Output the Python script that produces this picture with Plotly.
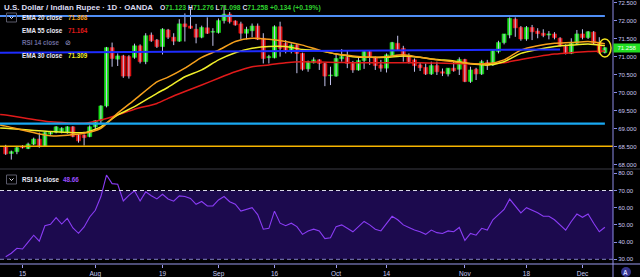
import plotly.graph_objects as go
import pandas as pd

# ---------------- data ----------------
dates = pd.bdate_range("2019-07-10", "2019-12-06")  # 108 daily bars

opens = [68.51, 68.32, 68.37, 68.51, 68.46, 68.58, 68.72, 68.53, 68.86, 68.91,
         68.91, 68.90, 69.06, 68.83, 68.83, 68.79, 69.06, 69.23, 69.64, 71.26,
         70.94, 71.03, 71.01, 70.99, 71.31, 70.87, 71.61, 71.47, 71.29, 71.75,
         71.55, 71.44, 71.92, 71.86, 71.77, 71.55, 71.81, 71.69, 71.68, 72.01,
         72.19, 72.00, 71.92, 71.66, 71.73, 71.86, 71.52, 70.98, 70.98, 71.84,
         71.38, 71.15, 71.33, 71.10, 70.67, 70.84, 70.92, 70.82, 70.48, 70.47,
         70.95, 70.99, 70.82, 70.64, 70.90, 71.15, 70.99, 70.78, 70.69, 71.03,
         71.38, 71.24, 71.01, 70.92, 70.78, 70.71, 70.53, 70.76, 70.59, 70.53,
         70.69, 70.66, 70.93, 70.32, 70.66, 70.53, 70.85, 70.78, 71.15, 71.40,
         71.61, 72.05, 71.82, 71.50, 71.82, 71.72, 71.66, 71.61, 71.64, 71.52,
         71.29, 71.10, 71.38, 71.64, 71.54, 71.69, 71.40, 71.123]
highs = [68.56, 68.40, 68.53, 68.55, 68.62, 68.76, 68.90, 68.92, 68.93, 69.08,
         69.05, 69.08, 69.08, 68.86, 68.85, 69.10, 69.25, 69.66, 71.28, 71.40,
         71.10, 71.06, 71.05, 71.37, 71.35, 71.66, 71.68, 71.50, 71.80, 71.78,
         71.66, 72.05, 72.21, 72.35, 71.92, 71.87, 72.10, 71.80, 72.07, 72.44,
         72.25, 72.02, 71.98, 71.84, 71.93, 71.93, 71.66, 71.06, 71.88, 71.98,
         71.47, 71.38, 71.36, 71.12, 70.90, 70.99, 70.94, 70.84, 70.73, 71.06,
         71.22, 71.18, 70.89, 70.99, 71.17, 71.18, 71.01, 70.92, 71.10, 71.42,
         71.59, 71.31, 71.10, 70.96, 70.85, 70.82, 70.87, 70.87, 70.68, 70.69,
         70.87, 70.99, 70.95, 70.73, 70.70, 70.92, 70.92, 71.20, 71.45, 71.64,
         72.10, 72.10, 71.86, 71.86, 71.89, 71.80, 71.77, 71.72, 71.69, 71.55,
         71.35, 71.52, 71.75, 71.77, 71.72, 71.72, 71.55, 71.276]
lows = [68.28, 68.15, 68.30, 68.46, 68.44, 68.55, 68.48, 68.50, 68.84, 68.88,
        68.88, 68.87, 68.77, 68.62, 68.54, 68.77, 68.95, 69.13, 69.60, 70.73,
        70.75, 70.42, 70.40, 70.95, 70.82, 70.80, 71.42, 71.25, 71.07, 71.50,
        71.33, 71.42, 71.43, 71.78, 71.38, 71.52, 71.64, 71.31, 71.65, 71.93,
        71.93, 71.87, 71.49, 71.49, 71.55, 71.47, 70.82, 70.82, 70.96, 71.01,
        71.10, 71.10, 70.55, 70.62, 70.59, 70.82, 70.64, 70.19, 70.22, 70.45,
        70.87, 70.69, 70.56, 70.62, 70.67, 70.78, 70.64, 70.59, 70.57, 71.00,
        71.19, 70.87, 70.82, 70.59, 70.61, 70.50, 70.50, 70.50, 70.47, 70.46,
        70.59, 70.50, 70.30, 70.28, 70.36, 70.50, 70.64, 70.75, 71.10, 71.35,
        71.52, 71.56, 71.45, 71.45, 71.47, 71.52, 71.55, 71.49, 71.49, 71.29,
        71.07, 71.08, 71.36, 71.49, 71.50, 71.35, 71.08, 71.098]
closes = [68.31, 68.37, 68.48, 68.48, 68.58, 68.72, 68.51, 68.90, 68.90, 69.06,
          69.02, 69.06, 68.79, 68.67, 68.76, 69.06, 69.23, 69.64, 71.26, 70.96,
          71.03, 70.47, 70.47, 71.31, 70.87, 71.59, 71.45, 71.29, 71.77, 71.55,
          71.44, 71.92, 71.84, 71.80, 71.55, 71.82, 71.66, 71.71, 72.01, 72.19,
          71.98, 71.89, 71.66, 71.77, 71.86, 71.49, 70.96, 71.01, 71.84, 71.24,
          71.15, 71.33, 71.10, 70.66, 70.87, 70.92, 70.82, 70.47, 70.50, 70.96,
          71.01, 70.82, 70.64, 70.90, 71.15, 70.99, 70.76, 70.69, 71.06, 71.40,
          71.21, 71.01, 70.87, 70.76, 70.70, 70.53, 70.76, 70.59, 70.55, 70.69,
          70.62, 70.93, 70.32, 70.64, 70.53, 70.87, 70.76, 71.18, 71.40, 71.64,
          72.07, 71.81, 71.50, 71.82, 71.70, 71.65, 71.60, 71.64, 71.54, 71.31,
          71.10, 71.38, 71.64, 71.54, 71.70, 71.38, 71.124, 71.258]

# EMA values at these bar positions
ema_idx = [-1, 0, 8, 14, 17, 20, 23, 27, 29, 32, 35, 38, 41, 44, 47, 50, 53, 56, 59,
           62, 65, 68, 71, 74, 77, 80, 83, 86, 89, 92, 95, 98, 101, 104, 107]
ema20 = [69.11, 69.08, 68.81, 68.88, 69.02, 69.44, 69.81, 70.31, 70.44, 70.69, 70.99,
         71.19, 71.43, 71.52, 71.49, 71.43, 71.33, 71.19, 71.08, 71.03, 70.99, 71.01,
         71.06, 70.99, 70.92, 70.87, 70.82, 70.81, 70.92, 71.19, 71.31, 71.38, 71.40,
         71.43, 71.368]
ema30 = [69.03, 69.02, 68.93, 68.90, 69.06, 69.39, 69.62, 69.99, 70.16, 70.45, 70.64,
         70.92, 71.12, 71.24, 71.29, 71.29, 71.21, 71.18, 71.08, 71.01, 70.99, 70.99,
         71.03, 70.99, 70.93, 70.89, 70.81, 70.78, 70.87, 71.10, 71.21, 71.29, 71.33,
         71.36, 71.309]
ema55 = [69.40, 69.39, 69.20, 69.16, 69.25, 69.39, 69.55, 69.71, 69.85, 70.04, 70.22,
         70.41, 70.59, 70.73, 70.78, 70.84, 70.87, 70.86, 70.85, 70.84, 70.84, 70.84,
         70.84, 70.84, 70.83, 70.82, 70.81, 70.81, 70.84, 70.93, 71.01, 71.08, 71.12,
         71.15, 71.164]

rsi = [31.5, 33.5, 36.4, 36.0, 40.0, 44.0, 40.5, 49.5, 50.3, 54.2,
       50.5, 53.8, 48.2, 45.1, 48.8, 54.6, 58.5, 66.5, 79.0, 74.0,
       73.6, 63.9, 67.2, 69.8, 63.9, 69.2, 67.0, 65.1, 67.8, 65.1,
       63.8, 66.9, 66.5, 65.4, 62.0, 63.6, 61.0, 61.0, 64.5, 66.5,
       63.5, 62.0, 58.0, 59.0, 60.0, 56.0, 47.5, 48.0, 58.0, 51.0,
       49.5, 51.0, 49.0, 44.5, 46.5, 47.5, 46.5, 42.0, 42.5, 49.0,
       50.0, 48.0, 46.0, 49.0, 52.0, 50.0, 47.5, 46.5, 51.0, 55.0,
       53.0, 50.0, 48.5, 47.0, 46.0, 44.5, 47.0, 45.5, 45.0, 46.5,
       46.0, 48.5, 41.0, 45.0, 44.0, 48.0, 47.0, 53.0, 56.0, 59.0,
       65.0, 61.0, 57.0, 60.0, 58.5, 57.0, 55.0, 55.0, 53.0, 50.0,
       47.0, 52.0, 56.3, 54.4, 56.3, 51.0, 46.0, 48.66]

# drawn levels (value at start, value at end, start bar, end bar)
levels = {
    "top":   (72.14, 72.14, -1.02, 107.0),
    "trend": (71.12, 71.21, -1.02, 99.0),
    "cyan":  (69.15, 69.15, -1.02, 107.0),
    "gold":  (68.52, 68.52, -1.02, 108.45),
}
tick_dates = ["2019-07-15", "2019-08-01", "2019-08-19", "2019-09-02", "2019-09-16",
              "2019-10-01", "2019-10-14", "2019-11-01", "2019-11-18", "2019-12-02"]
tick_text = ["15", "Aug", "19", "Sep", "16", "Oct", "14", "Nov", "18", "Dec"]
price_ticks = [68.0, 68.5, 69.0, 69.5, 70.0, 70.5, 71.0, 71.5, 72.0, 72.5]
rsi_ticks = [30, 40, 50, 60, 70, 80]

# ---------------- figure ----------------
W, H = 640, 277
ML, MR, MT, MB = 0, 27, 0, 13
PW, PH = W - ML - MR, H - MT - MB  # 613 x 264
SPLIT = 169  # pane separator (px from top)

def px(x):
    return x / PW

def py(y):
    return 1 - y / PH

idx = list(range(len(dates)))
date_pos = {d.strftime("%Y-%m-%d"): i for i, d in enumerate(dates)}
tickvals = [date_pos[d] for d in tick_dates]

GREEN = "#19e019"
RED = "#e61414"
WICK = "#c4c4ee"
LAV = "#8c8ce6"
TXT = "#c8c8f2"

fig = go.Figure()

# wicks
wx, wy = [], []
for i in idx:
    wx += [i, i, None]
    wy += [lows[i], highs[i], None]
fig.add_trace(go.Scatter(x=wx, y=wy, mode="lines", line=dict(color=WICK, width=1),
                         hoverinfo="skip", xaxis="x", yaxis="y"))

# bodies
cols = [GREEN if c >= o else RED for o, c in zip(opens, closes)]
fig.add_trace(go.Bar(x=idx, y=[abs(c - o) for o, c in zip(opens, closes)],
                     base=[min(o, c) for o, c in zip(opens, closes)],
                     width=0.72, marker=dict(color=cols, line=dict(color=cols, width=0.6)),
                     xaxis="x", yaxis="y"))

# EMAs
for vals, col in [(ema55, "#e01a1a"), (ema30, "#f2ef2a"), (ema20, "#f7a01c")]:
    fig.add_trace(go.Scatter(x=ema_idx, y=vals, mode="lines",
                             line=dict(color=col, width=1.5, shape="spline", smoothing=0.6),
                             xaxis="x", yaxis="y", hoverinfo="skip"))

# RSI
fig.add_trace(go.Scatter(x=idx, y=rsi, mode="lines", line=dict(color="#8a3cf5", width=1.1),
                         xaxis="x", yaxis="y2", hoverinfo="skip"))

shapes = []
# RSI band and dashed bounds
shapes.append(dict(type="rect", xref="paper", yref="y2", x0=0, x1=1, y0=30, y1=70,
                   fillcolor="#1c0a4e", line=dict(width=0), layer="below"))
shapes.append(dict(type="line", xref="paper", yref="y2", x0=0, x1=1, y0=70, y1=70,
                   line=dict(color="#d8d8e8", width=1, dash="4px,3px")))
shapes.append(dict(type="line", xref="paper", yref="y2", x0=0, x1=1, y0=30, y1=30,
                   line=dict(color="#8080c0", width=1, dash="4px,3px")))

lvl_style = {"top": ("#4f8ef5", 2), "trend": ("#1e2cff", 2),
             "cyan": ("#19a8f2", 2.2), "gold": ("#f7b500", 1.5)}
for k, (v0, v1, i0, i1) in levels.items():
    c, w = lvl_style[k]
    shapes.append(dict(type="line", xref="x", yref="y", x0=i0, x1=i1, y0=v0, y1=v1,
                       line=dict(color=c, width=w)))

# highlight ellipse around last bar
li = idx[-1]
shapes.append(dict(type="circle", xref="x", yref="y", x0=li - 1.1, x1=li + 1.1,
                   y0=closes[-1] - 0.26, y1=closes[-1] + 0.24,
                   line=dict(color="#f0e21e", width=1.5)))

# pane separator, axis lines
shapes.append(dict(type="line", xref="paper", yref="paper", x0=0, x1=W / PW,
                   y0=py(SPLIT), y1=py(SPLIT), line=dict(color="#3a3a44", width=1)))
shapes.append(dict(type="line", xref="paper", yref="paper", x0=1, x1=1,
                   y0=py(H), y1=1, line=dict(color=LAV, width=1)))
shapes.append(dict(type="line", xref="paper", yref="paper", x0=0, x1=W / PW,
                   y0=0, y1=0, line=dict(color="#9a9aee", width=1)))

# collapse buttons
for (bx, by) in [(6.5, 13), (6.5, 175)]:
    shapes.append(dict(type="rect", xref="paper", yref="paper",
                       x0=px(bx), x1=px(bx + 10), y0=py(by + 9), y1=py(by),
                       line=dict(color="#5a5a6a", width=1)))
    shapes.append(dict(type="path", xref="paper", yref="paper",
                       path=f"M {px(bx+3)},{py(by+3.5)} L {px(bx+5)},{py(by+5.5)} L {px(bx+7)},{py(by+3.5)}",
                       line=dict(color="#e0e0f0", width=1)))

# auto-scale button
shapes.append(dict(type="circle", xref="paper", yref="paper",
                   x0=px(621), x1=px(631), y0=py(277), y1=py(267),
                   fillcolor="#34348c", line=dict(width=0)))

ann = []
def text(x, y, s, color, size=7, anchor="left", bold=False):
    ann.append(dict(xref="paper", yref="paper", x=px(x), y=py(y), text=(f"<b>{s}</b>" if bold else s),
                    showarrow=False, xanchor=anchor, yanchor="middle",
                    font=dict(color=color, size=size, family="Liberation Sans")))

G = "#2fd22f"
chg = closes[-1] - closes[-2]
text(2, 8, "U.S. Dollar / Indian Rupee · 1D · OANDA", "#dcdcf0", 7.9, bold=True)
text(158, 8, f"O<span style='color:{G}'>{opens[-1]:.3f}</span> "
             f"H<span style='color:{G}'>{highs[-1]:.3f}</span> "
             f"L<span style='color:{G}'>{lows[-1]:.3f}</span> "
             f"C<span style='color:{G}'>{closes[-1]:.3f}</span> "
             f"<span style='color:{G}'>+{chg:.3f} (+{chg/closes[-2]*100:.2f}%)</span>",
     "#dcdcf0", 6.8, bold=True)

text(20, 17.5, "EMA 20 close", "#e8e8f4", 6.3, bold=True)
text(65.5, 17.5, f"{ema20[-1]:.3f}", "#f7a01c", 6.3, bold=True)
text(20, 30.5, "EMA 55 close", "#e8e8f4", 6.3, bold=True)
text(65.5, 30.5, f"{ema55[-1]:.3f}", "#e01a1a", 6.3, bold=True)
text(20, 42.5, "RSI 14 close", "#6a6a9c", 6.3, bold=True)
text(63, 42.5, "⊘", "#a0a0d8", 7)
text(20, 55, "EMA 30 close", "#e8e8f4", 6.3, bold=True)
text(65.5, 55, f"{ema30[-1]:.3f}", "#f2ef2a", 6.3, bold=True)

text(20, 179.5, "RSI 14 close", "#e8e8f4", 6.3, bold=True)
text(60.5, 179.5, f"{rsi[-1]:.2f}", "#9a4dff", 6.3, bold=True)

# last price label
ann.append(dict(xref="paper", yref="y", x=1, y=closes[-1], text=f"{closes[-1]:.3f}",
                showarrow=False, xanchor="left", yanchor="middle",
                bgcolor="#22dd22", borderpad=1, width=24,
                font=dict(color="#f4fff4", size=6, family="Liberation Sans")))
text(626, 272, "A", "#d0d0ff", 6.5, anchor="center", bold=True)

fig.update_layout(
    width=W, height=H, margin=dict(l=ML, r=MR, t=MT, b=MB),
    paper_bgcolor="#000000", plot_bgcolor="#000000",
    showlegend=False, barmode="overlay",
    shapes=shapes, annotations=ann,
    xaxis=dict(range=[-1.018, 108.45], domain=[0, 1], anchor="y2",
               tickvals=tickvals, ticktext=tick_text, ticks="outside", ticklen=3,
               tickcolor="#9a9aee", tickfont=dict(size=6.5, color=TXT, family="Liberation Sans"),
               showgrid=False, zeroline=False, showline=False),
    yaxis=dict(domain=[py(SPLIT), 1], range=[72.583 - SPLIT / 36, 72.583], side="right",
               anchor="x", tickvals=price_ticks, tickformat=".3f", ticks="outside",
               ticklen=3, tickcolor=LAV, tickfont=dict(size=6, color=TXT, family="Liberation Sans"),
               showgrid=False, zeroline=False, showline=False),
    yaxis2=dict(domain=[0, py(SPLIT)], range=[30 + (259.3 - PH) / 1.72, 30 + (259.3 - SPLIT) / 1.72],
                side="right", anchor="x", tickvals=rsi_ticks, tickformat=".2f", ticks="outside",
                ticklen=3, tickcolor=LAV, tickfont=dict(size=6, color=TXT, family="Liberation Sans"),
                showgrid=False, zeroline=False, showline=False),
)

fig.write_html("out.html")
